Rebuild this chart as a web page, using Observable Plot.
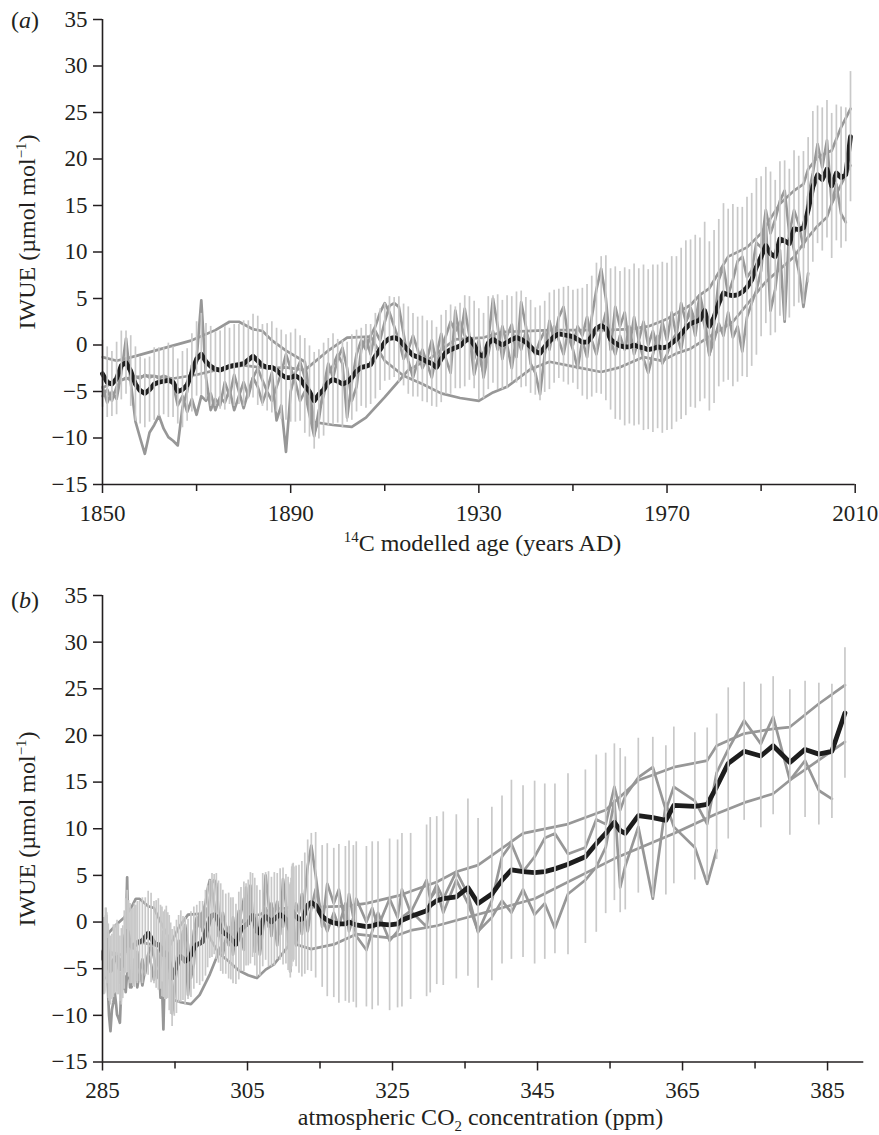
<!DOCTYPE html>
<html><head><meta charset="utf-8">
<script src="https://cdn.jsdelivr.net/npm/d3@7"></script>
<script src="https://cdn.jsdelivr.net/npm/@observablehq/plot@0.6"></script>
<style>
body{margin:0;background:#fff;}
#wrap{position:relative;width:879px;height:1135px;font-family:"Liberation Serif","Times New Roman",serif;color:#231f20;overflow:hidden;}
.abs{position:absolute;white-space:nowrap;font-size:24px;line-height:24px;}
.panel{position:absolute;left:0;}
sup,sub{font-size:0.62em;line-height:0;}
</style></head><body><div id="wrap"></div>
<script>
// ---------- data ----------
const years = d3.range(1850, 2010);

// atmospheric CO2 (ppm) for each year 1850-2009
const co2 = [
285.2,285.2,285.3,285.3,285.4,285.5,285.6,285.8,285.9,286.1,
286.3,286.5,286.7,286.9,287.0,287.2,287.4,287.6,287.8,288.0,
288.2,288.4,288.6,288.8,289.0,289.2,289.4,289.6,289.8,290.1,
290.5,290.9,291.3,291.7,292.1,292.4,292.7,293.0,293.2,293.4,
293.6,293.8,294.0,294.2,294.4,294.6,294.9,295.2,295.5,295.8,
296.1,296.4,296.8,297.2,297.6,298.0,298.4,298.8,299.2,299.5,
299.8,300.1,300.4,300.7,301.0,301.3,301.6,302.0,302.4,302.7,
303.0,303.4,303.8,304.1,304.5,304.8,305.1,305.4,305.7,306.0,
306.3,306.7,307.1,307.5,307.9,308.3,308.7,309.1,309.5,309.9,
310.3,310.6,310.8,310.9,311.0,311.1,311.1,311.2,311.2,311.3,
311.4,311.7,312.1,312.5,312.9,313.3,313.8,314.4,315.3,316.0,
316.9,317.6,318.5,319.0,319.6,320.0,321.4,322.2,323.0,324.6,
325.7,326.3,327.5,329.7,330.2,331.1,332.0,333.8,335.4,336.8,
338.7,340.1,341.4,343.0,344.6,346.0,347.4,349.2,351.6,353.1,
354.4,355.6,356.4,357.1,358.9,360.9,362.7,363.8,366.7,368.4,
369.7,371.3,373.5,375.8,377.5,379.8,381.9,383.8,385.6,387.4];

// mean IWUE anomaly (black line)
const meanIWUE = [
-3.1,-4.0,-4.2,-3.6,-2.2,-1.9,-2.8,-4.2,-4.9,-5.2,
-4.8,-4.2,-4.0,-3.9,-3.8,-4.0,-5.0,-4.8,-4.3,-3.0,
-1.5,-1.0,-1.8,-2.3,-2.6,-2.7,-2.5,-2.3,-2.2,-2.1,
-2.0,-1.6,-1.2,-1.7,-2.2,-2.4,-2.4,-2.7,-3.2,-3.5,
-3.5,-3.3,-3.6,-4.4,-5.0,-6.0,-5.3,-4.8,-4.0,-3.7,
-3.9,-4.2,-4.0,-3.5,-2.8,-2.4,-2.3,-2.1,-1.2,-0.5,
0.3,0.7,0.8,0.6,0.0,-0.6,-1.1,-1.3,-1.5,-1.8,
-2.0,-2.4,-1.5,-0.8,-0.5,-0.3,-0.1,0.4,0.7,0.0,
-1.0,-1.2,0.2,0.6,0.3,0.0,0.3,0.6,0.8,0.6,
0.3,-0.2,-0.7,-0.9,-0.2,0.4,0.9,1.2,1.1,1.0,
0.9,0.6,0.3,0.3,0.9,1.8,2.1,1.8,0.6,0.2,
-0.1,-0.2,-0.2,0.0,-0.2,-0.3,-0.5,-0.4,-0.2,-0.3,
-0.2,0.2,0.6,1.2,1.8,2.3,2.5,2.7,3.7,2.0,
3.0,4.5,5.6,5.4,5.3,5.4,5.7,6.2,7.0,8.4,
9.5,10.7,9.8,9.5,11.4,11.2,10.9,12.5,12.4,12.6,
14.5,17.0,18.3,17.8,18.9,17.1,18.5,18.0,18.3,22.4];

// half length of the error bar around the mean
const sdIWUE = [
3.6,3.8,3.5,3.9,3.7,3.4,3.8,4.0,3.6,3.7,
3.5,3.9,3.7,3.6,4.0,3.8,3.5,4.1,3.9,4.2,
4.0,4.4,4.1,4.3,4.0,4.2,4.5,4.1,4.4,4.3,
4.6,4.2,4.5,4.8,4.4,4.7,4.9,4.5,4.8,4.6,
4.8,5.0,4.6,5.1,4.9,5.2,4.8,5.0,4.7,4.9,
4.5,4.7,4.3,4.6,4.4,4.2,4.5,4.3,4.6,4.4,
4.2,4.5,4.3,4.6,4.4,4.7,4.5,4.3,4.6,4.4,
4.6,4.3,4.7,4.5,4.8,4.4,4.6,4.9,4.5,4.7,
4.9,4.6,5.0,4.7,5.1,4.8,5.0,4.6,4.9,5.2,
4.8,5.0,4.7,5.1,4.9,5.2,5.0,4.8,5.1,5.3,
5.0,5.4,5.8,6.2,6.5,7.0,7.4,7.8,7.6,8.2,
8.0,8.5,8.3,8.7,8.4,8.9,8.6,9.0,8.8,9.2,
9.0,9.3,8.9,9.2,9.4,9.0,9.3,8.8,9.5,9.1,
9.3,9.0,9.6,9.2,9.8,9.4,9.1,9.7,9.3,9.5,
8.6,8.4,8.8,8.2,8.3,8.6,8.0,8.4,7.9,8.2,
7.8,8.1,7.4,7.7,7.4,7.8,7.3,7.6,7.2,7.0];

// annually resolved site A (ends 2000)
const siteA = [
-4.5,-6.2,-5.0,-5.8,-3.0,0.7,-4.0,-8.2,-10.0,-11.7,
-9.4,-8.6,-7.6,-9.0,-9.9,-10.3,-10.8,-6.7,-5.0,-2.2,
-1.5,4.8,-3.5,-7.0,-5.8,-6.5,-4.0,-5.5,-3.2,-5.0,
-6.8,-5.0,-3.5,-4.5,-6.2,-4.8,-3.0,-8.1,-6.5,-11.5,
-5.0,-3.0,-1.8,-3.5,-6.5,-9.5,-8.0,-4.5,-2.0,-3.5,
-1.5,-0.3,-2.5,-6.0,-4.5,-0.5,0.8,-1.0,1.5,0.5,
2.5,4.2,4.5,4.1,1.2,-1.7,-3.5,-1.8,-0.5,-2.0,
-3.5,-1.0,1.2,-1.5,-3.0,3.7,0.5,3.9,1.0,-3.2,
-1.0,-3.0,0.5,5.0,2.0,-1.5,1.0,2.2,-1.3,4.6,
2.0,-2.0,-3.0,-5.3,-1.0,2.6,0.5,3.0,4.1,1.0,
-0.5,-2.5,0.5,-1.3,3.0,6.0,8.2,5.0,-0.5,4.1,
2.0,3.5,-0.2,3.0,0.5,-1.5,-3.0,-1.0,1.0,-2.0,
-1.0,0.5,1.2,-0.5,2.5,3.5,1.0,4.5,2.0,-1.0,
0.5,2.3,1.0,3.5,0.8,2.0,-0.7,3.0,4.5,5.9,
8.0,13.0,3.7,6.0,10.2,2.5,12.7,10.2,8.0,4.1,
7.7,null,null,null,null,null,null,null,null,null];

// annually resolved site B (ends 2008)
const siteB = [
-5.5,-4.8,-6.0,-4.5,-3.8,-3.5,-3.8,-3.4,-3.6,-3.2,
-3.5,-3.3,-3.6,-3.3,-3.5,-4.2,-6.5,-5.5,-7.2,-5.8,
-7.5,-5.5,-6.0,-5.2,-7.0,-5.6,-6.2,-4.8,-7.0,-5.5,
-4.0,-5.5,-3.5,-2.5,-3.8,-5.0,-6.0,-4.5,-3.0,-1.0,
-2.5,-4.0,-6.0,-5.0,-7.5,-9.8,-7.0,-5.5,-3.0,-2.2,
-1.0,-2.0,-7.8,-4.0,-1.0,0.5,-0.5,1.0,2.0,3.5,
4.5,3.5,2.0,0.5,-1.5,-0.5,1.0,-0.5,-2.5,-1.5,
0.5,-2.0,-0.5,1.0,2.5,1.5,2.5,1.0,0.5,-1.5,
0.5,-3.5,-1.0,1.5,-0.5,2.0,0.0,-2.5,1.0,-0.5,
1.5,0.0,-1.0,0.5,1.5,-0.5,2.0,0.5,-1.0,1.5,
0.0,2.0,1.0,3.0,0.5,-1.0,1.5,3.5,0.5,-1.0,
1.0,-0.5,2.0,-1.0,0.5,2.5,0.0,1.5,-0.5,2.5,
0.5,3.5,1.0,4.5,2.5,4.0,2.5,5.4,3.0,-1.1,
2.3,7.0,8.4,5.4,7.0,9.0,9.5,7.3,8.0,11.0,
10.5,14.5,12.0,13.5,15.5,16.6,12.0,14.5,13.0,10.5,
16.0,18.5,21.6,19.1,22.0,15.2,17.3,14.1,13.2,null];

// lower-resolution (smooth) site C
const siteCYears = [1850,1853,1857,1864,1869,1874,1877,1879,1882,1884,1886,1889,1893,1895,1899,1903,1906,1910,1915,1920,1925,1931,1935,1940,1945,1950,1957,1962,1966,1970,1975,1977,1979,1983,1987,1990,1994,1997,1999,2000,2002,2004,2005,2007,2009];
const siteCVals  = [-1.3,-1.7,-1.2,-0.2,0.5,1.6,2.5,2.5,1.7,1.5,0.5,-0.6,-1.8,-8.3,-8.6,-8.8,-7.8,-5.6,-2.7,-1.3,0.6,0.8,1.4,1.5,1.6,1.6,1.6,1.7,2.0,2.8,4.3,5.4,6.1,9.5,10.5,12.0,15.2,16.6,17.3,18.9,20.2,20.7,20.9,23.4,25.4];

// lower-resolution (smooth) site D
const siteDYears = [1850,1853,1856,1860,1865,1870,1875,1880,1885,1889,1893,1898,1902,1907,1910,1914,1918,1922,1926,1930,1933,1936,1941,1945,1951,1956,1960,1965,1969,1972,1975,1984,1991,1997,2000,2002,2004,2005,2009];
const siteDVals  = [-4.6,-3.9,-3.5,-3.3,-3.6,-3.2,-2.6,-2.2,-2.5,-2.4,-2.7,-0.6,0.8,0.9,-1.7,-3.3,-4.2,-5.2,-5.7,-6.0,-5.1,-4.5,-2.6,-1.8,-2.4,-2.9,-2.4,-1.3,-1.7,-0.9,-0.4,2.5,6.8,9.5,11.6,12.8,13.75,15.2,19.3];

const yTicks = [-15,-10,-5,0,5,10,15,20,25,30,35];
const yearTicks = [1850,1890,1930,1970,2010];
const yearMinor = [1870,1910,1950,1990];
const co2Ticks = [285,305,325,345,365,385];
const co2Minor = [295,315,335,355,375];

// ---------- tables ----------
const co2Of = y => co2[years.indexOf(y)];
const rows = years.map((y,i)=>({year:y, co2:co2[i], mean:meanIWUE[i], lo:meanIWUE[i]-sdIWUE[i], hi:meanIWUE[i]+sdIWUE[i]}));
const annual = arr => years.map((y,i)=>({year:y, co2:co2[i], v:arr[i]})).filter(d=>d.v!=null);
const sparse = (ys,vs) => ys.map((y,i)=>({year:y, co2:co2Of(y), v:vs[i]}));
const series = [annual(siteA), annual(siteB), sparse(siteCYears, siteCVals), sparse(siteDYears, siteDVals)];

const INK = "#231f20";
const fmtY = d => d < 0 ? "\u2212" + Math.abs(d) : String(d);

function panel(xKey, domain, major, minor, marginRight, marginBottom) {
  const marks = [];
  for (const s of series) marks.push(Plot.line(s, {x:xKey, y:"v", stroke:"#979797", strokeWidth:2.7, strokeLinejoin:"round"}));
  marks.push(Plot.line(rows, {x:xKey, y:"mean", stroke:"#1d1d1d", strokeWidth:4.8, strokeLinejoin:"round"}));
  marks.push(Plot.ruleX(rows, {x:xKey, y1:"lo", y2:"hi", stroke:"#c9c9c9", strokeWidth:1.7}));
  marks.push(Plot.ruleX([domain[0]], {stroke:INK, strokeWidth:1.6}));
  marks.push(Plot.ruleY([-15], {stroke:INK, strokeWidth:1.6}));
  marks.push(Plot.axisY({ticks:yTicks, tickSize:9, tickPadding:6, tickFormat:fmtY, label:null, strokeWidth:1.5, fontSize:23}));
  marks.push(Plot.axisX({ticks:major, tickSize:9, tickPadding:11, tickFormat:d=>String(d), label:null, strokeWidth:1.5, fontSize:23}));
  marks.push(Plot.axisX({ticks:minor, tickSize:7, tickFormat:()=>"", label:null, strokeWidth:1.5}));
  return Plot.plot({
    width:879, height:530,
    marginLeft:102, marginRight, marginTop:19, marginBottom,
    x:{domain}, y:{domain:[-15,35]},
    style:{background:"transparent", color:INK, fontFamily:"'Liberation Serif','Times New Roman',serif", fontSize:"23px", overflow:"visible"},
    marks
  });
}

const wrap = document.getElementById("wrap");
function place(node, top) {
  const d = document.createElement("div");
  d.className = "panel"; d.style.top = top + "px";
  d.appendChild(node); wrap.appendChild(d);
}
place(panel("year", [1850,2010], yearTicks, yearMinor, 24.3, 46), 0);
place(panel("co2", [285,390], co2Ticks, co2Minor, 15.7, 44.5), 576);

function label(html, x, y, opts={}) {
  const d = document.createElement("div");
  d.className = "abs"; d.innerHTML = html;
  d.style.left = x + "px"; d.style.top = y + "px";
  d.style.transform = opts.rotate ? "translate(-50%,-50%) rotate(-90deg)" : (opts.center ? "translate(-50%,0)" : "none");
  wrap.appendChild(d);
}
label("(<i>a</i>)", 11, 7.5);
label("(<i>b</i>)", 11, 587.5);
const ylab = "IWUE (\u00b5mol mol<sup>\u22121</sup>)";
label(ylab, 26.5, 231.5, {rotate:true});
label(ylab, 26.5, 828.5, {rotate:true});
label("<sup>14</sup>C modelled age (years AD)", 482.5, 530.5, {center:true});
label("atmospheric CO<sub>2</sub> concentration (ppm)", 480.5, 1105, {center:true});
</script></body></html>
